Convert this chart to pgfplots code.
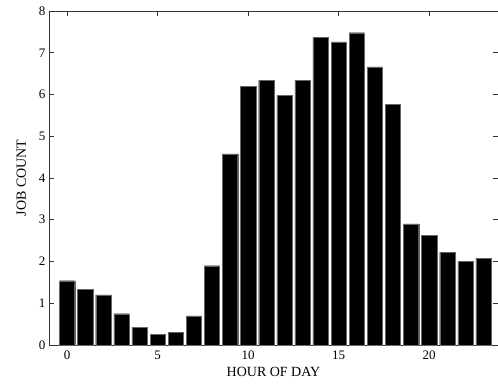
\documentclass[border=0pt]{standalone}
\usepackage{fontspec}
\setmainfont{Liberation Serif}
\usepackage{pgfplots}
\pgfplotsset{compat=1.18}
\begin{document}
\begin{tikzpicture}[x=1pt,y=1pt]
\begin{axis}[
  at={(0,0)}, anchor=south west,
  width=449pt, height=334pt, scale only axis,
  xmin=-1, xmax=23.8, ymin=0, ymax=8,
  xtick={0,5,10,15,20}, ytick={0,1,...,8},
  tick align=inside, major tick length=5pt,
  axis line style={line width=0.7pt, draw=black!80},
  tick style={line width=0.6pt, draw=black!80},
  /pgf/number format/assume math mode=true,
  ticklabel style={font=\fontsize{13}{13}\selectfont},
  xticklabel style={yshift=-2pt},
  xlabel={HOUR OF DAY}, ylabel={JOB COUNT},
  label style={font=\fontsize{14}{14}\selectfont},
  xlabel style={yshift=-1pt},
  ylabel style={yshift=6pt},
  clip=false,
]
\addplot[ybar, bar width=0.84, fill=black, draw=black!60, line width=0.3pt] coordinates {
(0,1.54) (1,1.33) (2,1.20) (3,0.75) (4,0.43) (5,0.25) (6,0.31) (7,0.70)
(8,1.90) (9,4.58) (10,6.19) (11,6.34) (12,5.98) (13,6.34) (14,7.37) (15,7.26)
(16,7.48) (17,6.66) (18,5.77) (19,2.90) (20,2.63) (21,2.22) (22,2.01) (23,2.08)
};
\end{axis}
\pgfresetboundingbox
\path (-49pt,-41pt) rectangle (449pt,345pt);
\end{tikzpicture}
\end{document}
